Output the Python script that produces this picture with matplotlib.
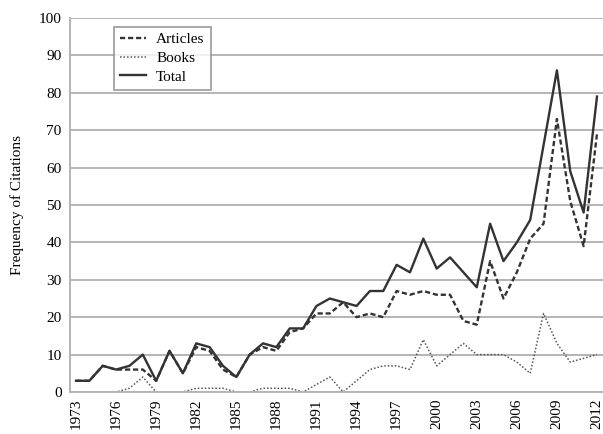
import numpy as np
import matplotlib
matplotlib.use("Agg")
import matplotlib.pyplot as plt

#  ############################# Data ########################################

years = list(range(1973, 2013))

articles = [3, 3, 7, 6, 6, 6, 3, 11, 5, 12,
            11, 6, 4, 10, 12, 11, 16, 17, 21, 21,
            24, 20, 21, 20, 27, 26, 27, 26, 26, 19,
            18, 35, 25, 32, 41, 45, 73, 51, 39, 69]

books = [0, 0, 0, 0, 1, 4, 0, 0, 0, 1,
         1, 1, 0, 0, 1, 1, 1, 0, 2, 4,
         0, 3, 6, 7, 7, 6, 14, 7, 10, 13,
         10, 10, 10, 8, 5, 21, 13, 8, 9, 10]

total = [3, 3, 7, 6, 7, 10, 3, 11, 5, 13,
         12, 7, 4, 10, 13, 12, 17, 17, 23, 25,
         24, 23, 27, 27, 34, 32, 41, 33, 36, 32,
         28, 45, 35, 40, 46, 66, 86, 59, 48, 79]

tick_years = list(range(1973, 2013, 3))

#  ############################# Plot parameters ##############################

plt.rcParams['font.family'] = ['Liberation Serif', 'DejaVu Serif']
plt.rc('font', size=11)
plt.rc('xtick', labelsize=11)
plt.rc('ytick', labelsize=11)

line_col = '#333333'
grid_col = '#b4b4b4'

#  ################################ Ploting ###################################

fig = plt.figure(figsize=(6.03, 4.34), dpi=100)
ax = fig.add_axes([70/603, 1 - 392/434, 533/603, (392 - 18)/434])

ax.plot(years, articles, color=line_col, lw=1.7, linestyle=(0, (2.2, 1.2)),
        label='Articles')
ax.plot(years, books, color='#555555', lw=1.1, linestyle=(0, (1, 1.3)),
        label='Books')
ax.plot(years, total, color=line_col, lw=1.7, label='Total')

ax.set_xlim(1972.55, 2012.45)
ax.set_ylim(0, 100)
ax.set_yticks(np.arange(0, 101, 10))
ax.set_xticks(tick_years)
ax.set_xticklabels([str(y) for y in tick_years], rotation=90)
ax.tick_params(axis='x', length=0, pad=5)
ax.tick_params(axis='y', length=0, pad=6)

ax.yaxis.grid(True, color=grid_col, lw=1.4)
ax.set_axisbelow(True)
for s in ['top', 'right']:
    ax.spines[s].set_visible(False)
for s in ['left', 'bottom']:
    ax.spines[s].set_color(grid_col)
    ax.spines[s].set_linewidth(1.4)

ax.set_ylabel('Frequency of Citations', fontsize=11)
ax.yaxis.set_label_coords(-0.087, 0.5)

leg = ax.legend(loc='upper left', bbox_to_anchor=(0.0826, 0.977),
                borderaxespad=0, fancybox=False, edgecolor='#8a8a8a',
                fontsize=11, handlelength=1.7, handletextpad=0.65,
                borderpad=0.4, labelspacing=0.32)
leg.get_frame().set_linewidth(1.3)

plt.savefig("out.png", dpi=100)
